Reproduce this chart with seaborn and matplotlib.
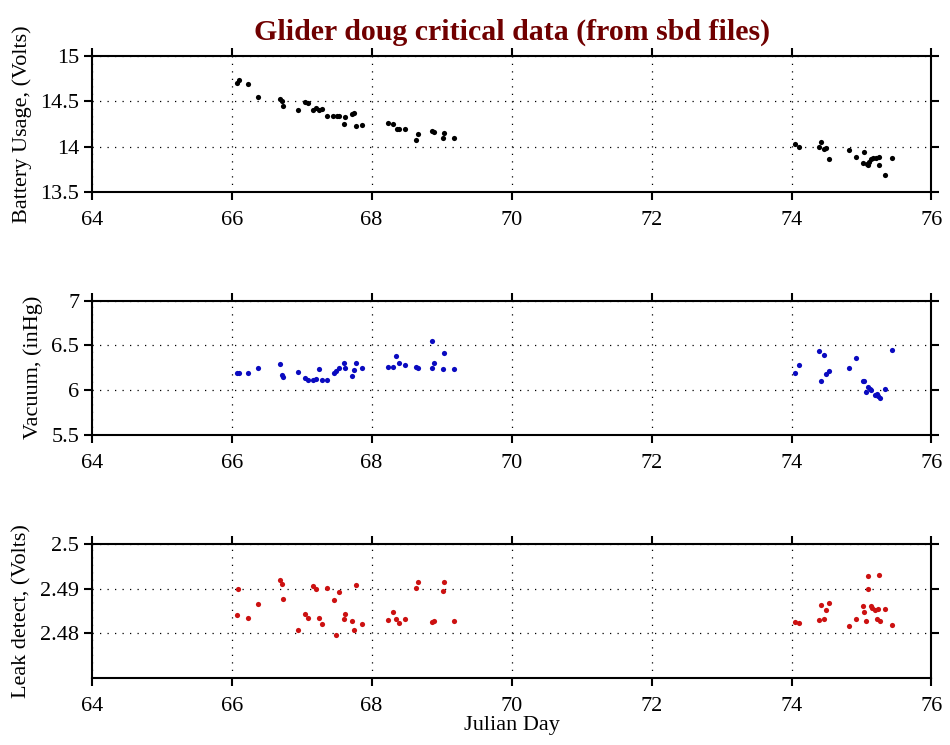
import matplotlib
matplotlib.use("Agg")
import matplotlib.pyplot as plt
import seaborn as sns
import pandas as pd

# ---------------- data ----------------
batt_day = [66.071, 66.10, 66.238, 66.381, 66.69, 66.719, 66.729, 66.948, 67.043, 67.086,
            67.157, 67.205, 67.252, 67.286, 67.357, 67.452, 67.50, 67.533, 67.60, 67.624,
            67.719, 67.748, 67.776, 67.867, 68.229, 68.30, 68.357, 68.39, 68.476, 68.629,
            68.662, 68.862, 68.886, 69.014, 69.033, 69.181,
            74.057, 74.104, 74.42, 74.396, 74.458, 74.495, 74.533, 74.82, 74.925, 75.038,
            75.019, 75.08, 75.104, 75.132, 75.165, 75.203, 75.25, 75.245, 75.34, 75.443, 75.094]
batt_val = [14.706, 14.735, 14.695, 14.551, 14.522, 14.504, 14.445, 14.40, 14.496, 14.478,
            14.404, 14.426, 14.404, 14.415, 14.335, 14.335, 14.335, 14.335, 14.254, 14.327,
            14.357, 14.368, 14.224, 14.235, 14.265, 14.246, 14.191, 14.191, 14.191, 14.074,
            14.136, 14.176, 14.162, 14.099, 14.154, 14.092,
            14.026, 14.0, 14.048, 13.993, 13.978, 13.985, 13.86, 13.967, 13.886, 13.941,
            13.816, 13.809, 13.835, 13.86, 13.871, 13.879, 13.89, 13.798, 13.691, 13.879, 13.798]

vac_day = [66.071, 66.105, 66.238, 66.381, 66.69, 66.719, 66.729, 66.948, 67.043, 67.086,
           67.157, 67.205, 67.252, 67.286, 67.357, 67.462, 67.49, 67.529, 67.60, 67.624,
           67.719, 67.743, 67.776, 67.862, 68.229, 68.30, 68.348, 68.386, 68.481, 68.629,
           68.662, 68.862, 68.895, 68.867, 69.033, 69.014, 69.181,
           74.057, 74.104, 74.396, 74.462, 74.415, 74.495, 74.533, 74.821, 74.925, 75.019,
           75.038, 75.071, 75.094, 75.118, 75.142, 75.193, 75.222, 75.236, 75.259, 75.34, 75.443]
vac_val = [6.194, 6.194, 6.194, 6.243, 6.287, 6.168, 6.149, 6.198, 6.134, 6.116,
           6.116, 6.123, 6.235, 6.116, 6.116, 6.187, 6.216, 6.243, 6.306, 6.243,
           6.160, 6.224, 6.299, 6.25, 6.254, 6.254, 6.381, 6.306, 6.28, 6.254,
           6.246, 6.549, 6.302, 6.243, 6.41, 6.235, 6.235,
           6.187, 6.280, 6.437, 6.396, 6.097, 6.179, 6.209, 6.243, 6.354, 6.097,
           6.097, 5.981, 6.030, 6.015, 6.0, 5.944, 5.955, 5.933, 5.914, 6.007, 6.451]

leak_day = [66.071, 66.095, 66.238, 66.381, 66.69, 66.719, 66.729, 66.948, 67.043, 67.086,
            67.157, 67.205, 67.252, 67.286, 67.357, 67.462, 67.495, 67.529, 67.60, 67.624,
            67.719, 67.743, 67.776, 67.862, 68.229, 68.30, 68.348, 68.386, 68.481, 68.629,
            68.662, 68.862, 68.895, 69.014, 69.033, 69.181,
            74.057, 74.104, 74.396, 74.462, 74.415, 74.495, 74.533, 74.821, 74.925, 75.019,
            75.038, 75.071, 75.094, 75.099, 75.132, 75.156, 75.193, 75.236, 75.222, 75.25,
            75.259, 75.34, 75.443]
leak_val = [2.4840, 2.4899, 2.4833, 2.4866, 2.4919, 2.4911, 2.4877, 2.4808, 2.4842, 2.4833,
            2.4905, 2.4899, 2.4835, 2.4821, 2.4902, 2.4874, 2.4796, 2.4892, 2.4832, 2.4844,
            2.4828, 2.4808, 2.4907, 2.4820, 2.4829, 2.4847, 2.4832, 2.4822, 2.4832, 2.4902,
            2.4914, 2.4826, 2.4827, 2.4895, 2.4914, 2.4828,
            2.4824, 2.4822, 2.4829, 2.4831, 2.4864, 2.4853, 2.4868, 2.4816, 2.4831, 2.4862,
            2.4848, 2.4828, 2.4929, 2.4899, 2.4862, 2.4857, 2.4852, 2.4854, 2.4832, 2.4931,
            2.4828, 2.4855, 2.4818]

x_ticks = [64, 66, 68, 70, 72, 74, 76]
batt_ticks = [13.5, 14, 14.5, 15]
batt_labels = ["13.5", "14", "14.5", "15"]
vac_ticks = [5.5, 6, 6.5, 7]
vac_labels = ["5.5", "6", "6.5", "7"]
leak_ticks = [2.48, 2.49, 2.5]
leak_labels = ["2.48", "2.49", "2.5"]

title = "Glider doug critical data (from sbd files)"
xlabel = "Julian Day"

# ---------------- style ----------------
sns.set_theme(style="ticks")
plt.rcParams["font.family"] = ["Liberation Serif", "DejaVu Serif"]
plt.rcParams["axes.linewidth"] = 1.5

fig = plt.figure(figsize=(9.5, 7.45), dpi=100)
fig.patch.set_facecolor("white")

L, W = 0.0965, 0.884
boxes = [(0.7423, 0.1826), (0.4165, 0.1800), (0.0903, 0.1795)]

panels = [
    (batt_day, batt_val, "black", "Battery Usage, (Volts)", (13.5, 15), batt_ticks, batt_labels),
    (vac_day, vac_val, "#0a0ac0", "Vacuum, (inHg)", (5.5, 7), vac_ticks, vac_labels),
    (leak_day, leak_val, "#cc1111", "Leak detect, (Volts)", (2.47, 2.5), leak_ticks, leak_labels),
]

axes = []
for (b, h), (xd, yd, col, ylab, ylim, yt, ytl) in zip(boxes, panels):
    ax = fig.add_axes([L, b, W, h])
    df = pd.DataFrame({"day": xd, "val": yd})
    sns.scatterplot(data=df, x="day", y="val", ax=ax, color=col, s=14,
                    marker="o", linewidth=0, edgecolor=col)
    ax.set_xlim(64, 76)
    ax.set_ylim(*ylim)
    ax.set_xticks(x_ticks)
    ax.set_xticklabels([str(t) for t in x_ticks])
    ax.set_yticks(yt)
    ax.set_yticklabels(ytl)
    ax.grid(True, color="black", linestyle=(0, (1, 5)), linewidth=0.9)
    for s in ax.spines.values():
        s.set_visible(True)
        s.set_linewidth(1.5)
        s.set_color("black")
    ax.tick_params(axis="both", which="both", direction="out", length=6, width=1.5,
                   labelsize=16, colors="black", top=True, right=True)
    ax.tick_params(axis="x", pad=8)
    ax.tick_params(axis="y", pad=3)
    ax.set_ylabel(ylab, fontsize=16, labelpad=6, color="black")
    ax.set_xlabel("")
    ax.set_axisbelow(True)
    axes.append(ax)

axes[2].set_xlabel(xlabel, fontsize=16, labelpad=0, color="black")
axes[0].set_title(title, fontsize=21.5, fontweight="bold", color="#700000", pad=12)

fig.savefig("out.png", dpi=100, facecolor="white")
